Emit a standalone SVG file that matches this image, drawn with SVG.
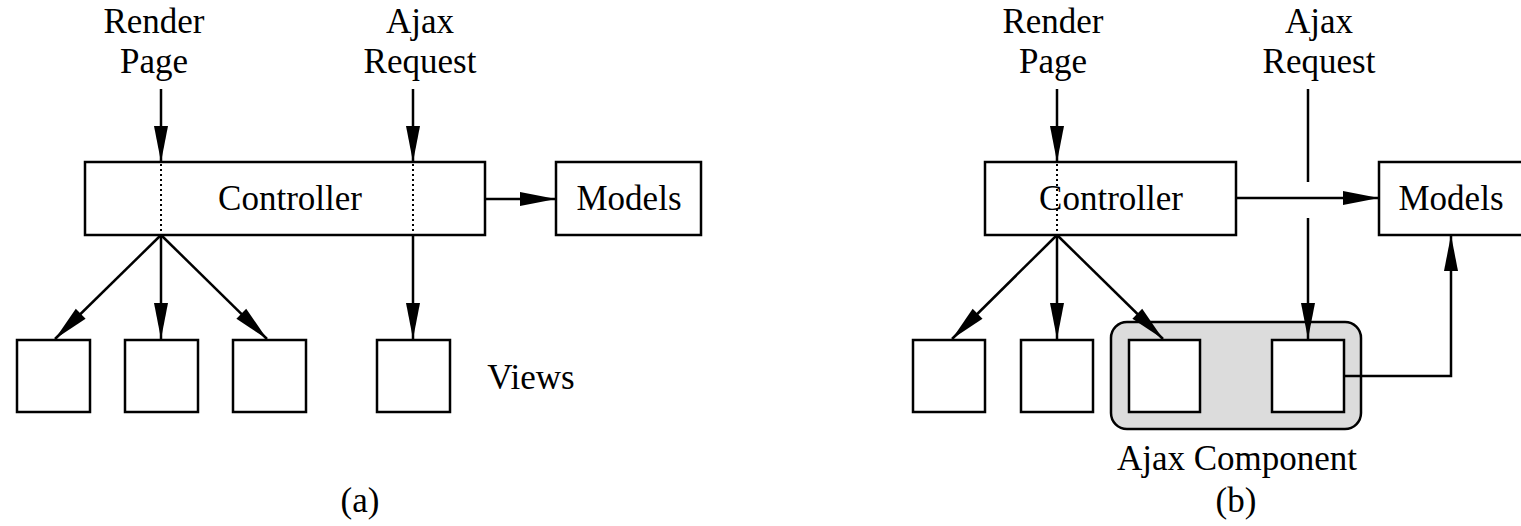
<svg xmlns="http://www.w3.org/2000/svg" width="1521" height="526" viewBox="0 0 1521 526">
  <style>
    .box { fill: #fff; stroke: #000; stroke-width: 2.5; }
    .lbl { font-family: "Liberation Serif", "Times New Roman", serif; font-size: 35px; fill: #000; text-anchor: middle; }
    .wire { stroke: #000; stroke-width: 2.5; fill: none; }
    .arrow { marker-end: url(#head); }
    .dots { stroke: #000; stroke-width: 2; stroke-dasharray: 2 3; fill: none; }
  </style>
  <defs>
    <marker id="head" markerUnits="userSpaceOnUse" markerWidth="36" markerHeight="14" refX="36" refY="7" orient="auto" overflow="visible">
      <path d="M0,0 L36,7 L0,14 Z" fill="#000"/>
    </marker>
  </defs>
  <rect width="1521" height="526" fill="#fff"/>

  <!-- (a) classic page-level MVC -->
  <g id="a-labels">
    <text class="lbl" x="154" y="33">Render</text>
    <text class="lbl" x="154" y="73">Page</text>
    <text class="lbl" x="420" y="33">Ajax</text>
    <text class="lbl" x="420" y="73">Request</text>
  </g>
  <g id="a-controller">
    <rect class="box" x="85" y="162" width="400" height="73"/>
    <line class="dots" x1="161" y1="164" x2="161" y2="233"/>
    <line class="dots" x1="413" y1="164" x2="413" y2="233"/>
    <text class="lbl" x="290" y="210">Controller</text>
  </g>
  <g id="a-models">
    <rect class="box" x="556" y="162" width="145" height="73"/>
    <text class="lbl" x="629" y="210">Models</text>
  </g>
  <g id="a-view1"><rect class="box" x="17" y="340" width="73" height="72"/></g>
  <g id="a-view2"><rect class="box" x="125" y="340" width="73" height="72"/></g>
  <g id="a-view3"><rect class="box" x="233" y="340" width="73" height="72"/></g>
  <g id="a-view4"><rect class="box" x="377" y="340" width="73" height="72"/></g>
  <g id="a-views-label"><text class="lbl" x="531" y="389">Views</text></g>
  <g id="a-caption"><text class="lbl" x="360" y="512">(a)</text></g>
  <g id="a-connectors">
    <line class="wire arrow" x1="161" y1="89" x2="161" y2="162"/>
    <line class="wire arrow" x1="413" y1="89" x2="413" y2="162"/>
    <line class="wire arrow" x1="485" y1="199" x2="556" y2="199"/>
    <line class="wire arrow" x1="161" y1="235" x2="55" y2="339"/>
    <line class="wire arrow" x1="161" y1="235" x2="161" y2="339"/>
    <line class="wire arrow" x1="161" y1="235" x2="267" y2="339"/>
    <line class="wire arrow" x1="413" y1="235" x2="413" y2="339"/>
  </g>

  <!-- (b) page split into an Ajax component -->
  <g id="b-labels">
    <text class="lbl" x="1053" y="33">Render</text>
    <text class="lbl" x="1053" y="73">Page</text>
    <text class="lbl" x="1319" y="33">Ajax</text>
    <text class="lbl" x="1319" y="73">Request</text>
  </g>
  <g id="b-component">
    <rect x="1111" y="322" width="250" height="107" rx="16" ry="16" fill="#dcdcdc" stroke="#000" stroke-width="2.5"/>
    <text class="lbl" x="1237" y="470">Ajax Component</text>
  </g>
  <g id="b-controller">
    <rect class="box" x="985" y="162" width="251" height="73"/>
    <line class="dots" x1="1057" y1="164" x2="1057" y2="233"/>
    <text class="lbl" x="1111" y="210">Controller</text>
  </g>
  <g id="b-models">
    <rect class="box" x="1379" y="162" width="150" height="73"/>
    <text class="lbl" x="1451" y="210">Models</text>
  </g>
  <g id="b-view1"><rect class="box" x="913" y="340" width="72" height="72"/></g>
  <g id="b-view2"><rect class="box" x="1021" y="340" width="72" height="72"/></g>
  <g id="b-view3"><rect class="box" x="1129" y="340" width="71" height="72"/></g>
  <g id="b-view4"><rect class="box" x="1272" y="340" width="72" height="72"/></g>
  <g id="b-caption"><text class="lbl" x="1236" y="512">(b)</text></g>
  <g id="b-connectors">
    <line class="wire arrow" x1="1057" y1="89" x2="1057" y2="162"/>
    <line class="wire" x1="1308" y1="89" x2="1308" y2="182"/>
    <line class="wire arrow" x1="1308" y1="218" x2="1308" y2="339"/>
    <line class="wire arrow" x1="1236" y1="198" x2="1379" y2="198"/>
    <line class="wire arrow" x1="1057" y1="235" x2="952" y2="339"/>
    <line class="wire arrow" x1="1057" y1="235" x2="1057" y2="339"/>
    <line class="wire arrow" x1="1057" y1="235" x2="1163" y2="339"/>
    <polyline class="wire arrow" points="1344,376 1451,376 1451,235"/>
  </g>
</svg>
